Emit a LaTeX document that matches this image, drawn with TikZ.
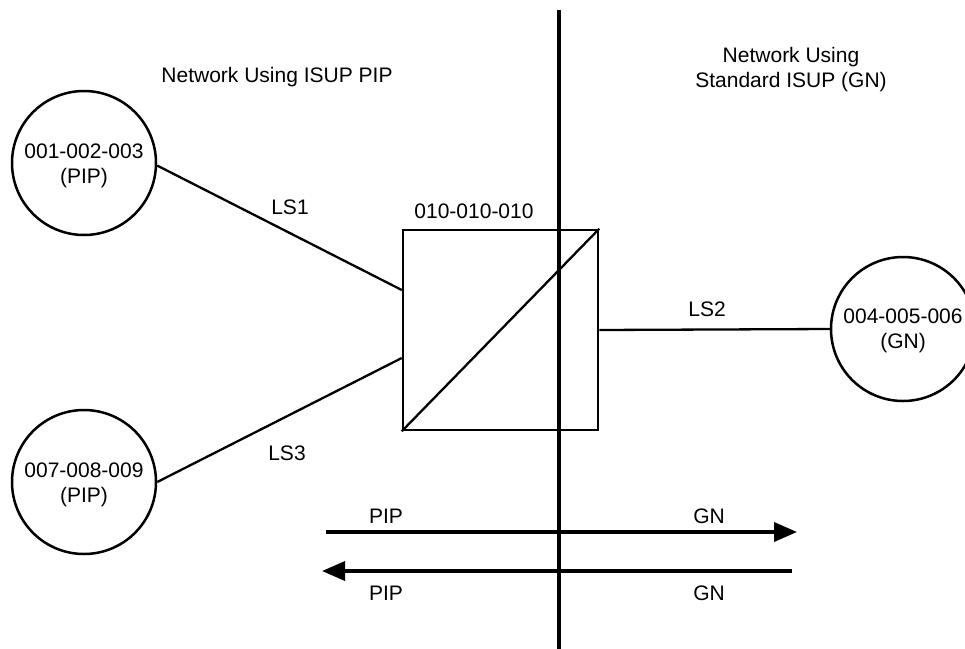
\documentclass[tikz,border=0pt]{standalone}
\usepackage{fontspec}
\setmainfont{Liberation Sans}
\usetikzlibrary{arrows.meta}
\begin{document}
\begin{tikzpicture}[x=1pt,y=-1pt,
  every node/.style={font=\fontsize{21}{25}\selectfont},
  site/.style={circle,draw,line width=2.5pt,minimum size=144pt,inner sep=0pt},
  stp/.style={rectangle,draw,line width=2.5pt,minimum width=195pt,minimum height=200pt,inner sep=0pt},
  link/.style={line width=2.3pt},
  txt/.style={inner sep=0pt,align=center},
  flow/.style={line width=3.5pt,-{Triangle[length=23pt,width=19pt]}},
  divider/.style={line width=4pt}]
\useasboundingbox (0,0) rectangle (965,648);
% divider
\coordinate (dtop) at (559,10);
\coordinate (dbot) at (559,650);
% nodes
\node[site,label={[txt,yshift=-3pt]center:001-002-003\\(PIP)}] (n1) at (84,163) {};
\node[site,label={[txt,yshift=-3pt]center:007-008-009\\(PIP)}] (n2) at (84,482) {};
\node[site,label={[txt,yshift=-2pt]center:004-005-006\\(GN)}] (n3) at (903,329) {};
\node[stp] (box) at (500.5,330) {};
\draw[link] (box.south west) -- (box.north east);
% links
\draw[link] (n1.-2) -- ([yshift=40pt]box.west);
\draw[link] (n2.0) -- ([yshift=-28pt]box.west);
\draw[link] (box.east) -- (n3.west);
% divider line drawn over box
\draw[divider] (dtop) -- (dbot);
% labels
\node[txt] (t1) at (277,77) {Network Using ISUP PIP};
\node[txt] (t2) at (791,70) {Network Using\\Standard ISUP (GN)};
\node[txt] (l1) at (290,207) {LS1};
\node[txt] (l3) at (287,453) {LS3};
\node[txt] (l2) at (707,309) {LS2};
\node[txt] (pc) at (474,211) {010-010-010};
% flows
\coordinate (f1s) at (326,532);
\coordinate (f1e) at (797,532);
\coordinate (f2s) at (792,571);
\coordinate (f2e) at (322,571);
\draw[flow] (f1s) -- (f1e);
\draw[flow] (f2s) -- (f2e);
\node[txt] (p1) at (386,516) {PIP};
\node[txt] (g1) at (709,516) {GN};
\node[txt] (p2) at (386,593) {PIP};
\node[txt] (g2) at (709,593) {GN};
\end{tikzpicture}
\end{document}
